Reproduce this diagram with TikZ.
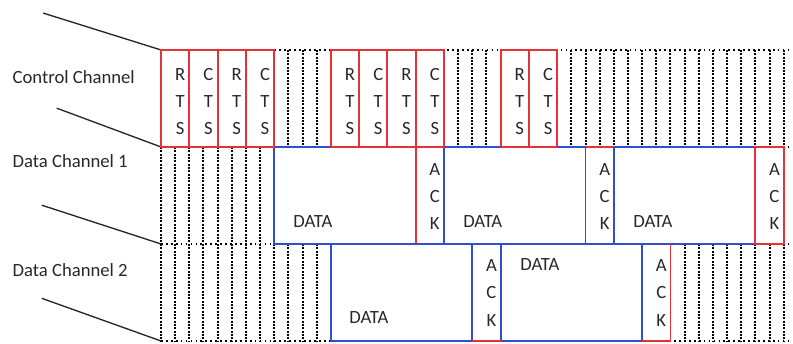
\documentclass[tikz,border=0pt]{standalone}
\usepackage{fontspec}
\setmainfont{Carlito}
\definecolor{ctsred}{RGB}{226,52,56}
\definecolor{datablue}{RGB}{48,78,206}
\definecolor{inktext}{RGB}{40,40,40}
\tikzstyle{slot} = [draw=black, line width=1.5pt, dash pattern=on 1.5pt off 1pt]
\tikzstyle{slotrow} = [draw=black, line width=1.3pt, dash pattern=on 1.3pt off 2.4pt]
\tikzstyle{ctrlline} = [draw=ctsred, line width=1.4pt]
\tikzstyle{dataline} = [draw=datablue, line width=1.4pt]
\tikzstyle{lead} = [draw=black!85, line width=1pt]
\tikzstyle{chan} = [anchor=west, inner sep=0pt, text=inktext, font=\fontsize{14}{16}\selectfont]
\tikzstyle{letters} = [align=center, inner sep=0pt, text=inktext, font=\fontsize{14}{20.3}\selectfont]

\begin{document}
\begin{tikzpicture}[x=10.6125pt, y=-72.75pt]
\useasboundingbox (-11.378,-0.515) rectangle (44.66,3.021);
% channel names
\node (ctrl) [chan] at (-10.5,0.28) {Control Channel};
\node (dch1) [chan] at (-10.5,1.15) {Data Channel 1};
\node (dch2) [chan] at (-10.5,2.27) {Data Channel 2};
\coordinate (lead1) at (-8.32,-0.38);
\coordinate (lead2) at (-7.37,0.60);
\coordinate (lead3) at (-8.43,1.60);
\coordinate (lead4) at (-8.43,2.56);
\coordinate (c0) at (0,0);
\coordinate (c1) at (0,1);
\coordinate (c2) at (0,2);
\coordinate (c3) at (0,3);
\draw [lead] (lead1) -- (c0);
\draw [lead] (lead2) -- (c1);
\draw [lead] (lead3) -- (c2);
\draw [lead] (lead4) -- (c3);

% empty slots
\foreach \r in {0,1,2,3} \draw [slotrow] (0,\r) -- (44.5,\r);
\foreach \x in {9,10,11,21,22,23,29,30,...,44} \draw [slot] (\x,0) -- (\x,1);
\foreach \x in {0,1,...,7} \draw [slot] (\x,1) -- (\x,2);
\foreach \x in {0,1,...,11,37,38,...,44} \draw [slot] (\x,2) -- (\x,3);

% data channels
\draw [dataline] (8,1) rectangle (18,2);
\draw [dataline] (18,1) rectangle (20,2);
\draw [dataline] (20,1) rectangle (30,2);
\draw [dataline] (30,1) rectangle (32,2);
\draw [dataline] (32,1) rectangle (42,2);
\draw [dataline] (12,2) rectangle (22,3);
\draw [dataline] (22,2) rectangle (24,3);
\draw [dataline] (24,2) rectangle (34,3);
\draw [dataline] (34,2) rectangle (36,3);
\draw [ctrlline] (18,1) -- (18,2);
\draw [ctrlline] (30,1) -- (32,1);
\draw [ctrlline] (42,1) rectangle (44,2);
\draw [ctrlline] (22,3) -- (24,3);
\draw [ctrlline] (34,3) -- (36,3) -- (36,2);

% control channel
\foreach \i in {0,2,4,6,12,14,16,18,24,26} \draw [ctrlline] (\i,0) rectangle (\i+2,1);
\foreach \i/\n in {0/1,4/2,12/3,16/4,24/5} \node (rts\n) [letters] at (\i+1.35,0.53) {R\\T\\S};
\foreach \i/\n in {2/1,6/2,14/3,18/4,26/5} \node (cts\n) [letters] at (\i+1.35,0.53) {C\\T\\S};

\node (ack1) [letters] at (19.35,1.515) {A\\C\\K};
\node (ack2) [letters] at (31.35,1.515) {A\\C\\K};
\node (ack3) [letters] at (43.35,1.515) {A\\C\\K};
\node (ack4) [letters] at (23.35,2.505) {A\\C\\K};
\node (ack5) [letters] at (35.35,2.505) {A\\C\\K};
\node (data1) [chan] at (9.33,1.773) {DATA};
\node (data2) [chan] at (21.34,1.773) {DATA};
\node (data3) [chan] at (33.36,1.773) {DATA};
\node (data4) [chan] at (13.29,2.763) {DATA};
\node (data5) [chan] at (25.37,2.216) {DATA};
\end{tikzpicture}
\end{document}
